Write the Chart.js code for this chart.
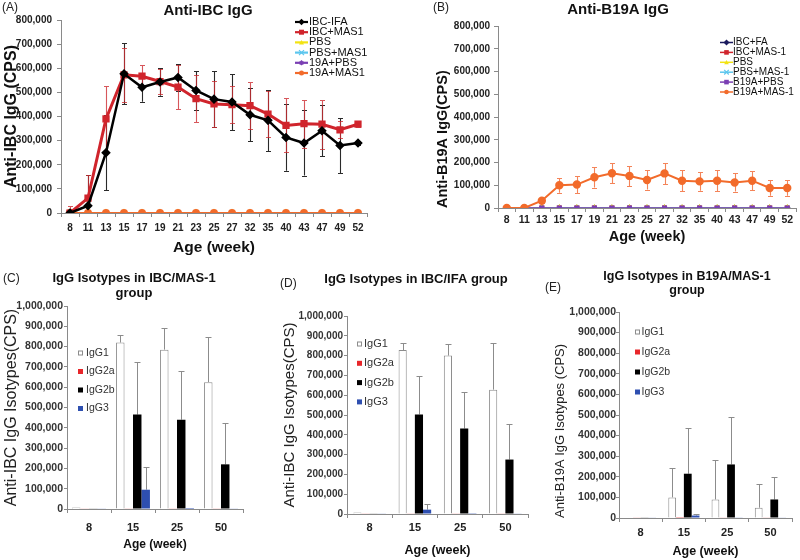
<!DOCTYPE html>
<html>
<head>
<meta charset="utf-8">
<script src="https://cdn.jsdelivr.net/npm/chart.js@4.4.1/dist/chart.umd.min.js"></script>
<style>
html,body{margin:0;padding:0;background:#fff;width:800px;height:560px;overflow:hidden;position:relative;font-family:'Liberation Sans',Arial,sans-serif;}
canvas{position:absolute;}
.lab{position:absolute;font-size:12px;color:#222;line-height:14px;}
</style>
</head>
<body>
<canvas id="cA" width="416" height="265" style="left:0;top:0"></canvas>
<canvas id="cB" width="436" height="265" style="left:400px;top:0"></canvas>
<canvas id="cC" width="268" height="290" style="left:0;top:270px"></canvas>
<canvas id="cD" width="302" height="290" style="left:265px;top:270px"></canvas>
<canvas id="cE" width="314" height="290" style="left:530px;top:270px"></canvas>
<div class="lab" style="left:2px;top:0px">(A)</div>
<div class="lab" style="left:433px;top:0px">(B)</div>
<div class="lab" style="left:3px;top:271px">(C)</div>
<div class="lab" style="left:280px;top:276px">(D)</div>
<div class="lab" style="left:545px;top:280px">(E)</div>
<script>
// ---------- data: panels A & B (line charts) ----------
const weeks = ['8','11','13','15','17','19','21','23','25','27','32','35','40','43','47','49','52'];

const ibcIfa      = [0, 30000, 250000, 577000, 521000, 543000, 562000, 508000, 472000, 460000, 407000, 384000, 313000, 290000, 341000, 280000, 290000];
const ibcIfaErr   = [0, 128000, 155000, 127000, 60000, 57000, 55000, 82000, 115000, 118000, 110000, 127000, 138000, 135000, 106000, 115000, 10000];
const ibcMas1     = [0, 62000, 390000, 573000, 567000, 545000, 522000, 474000, 452000, 449000, 445000, 410000, 363000, 370000, 368000, 345000, 368000];
const ibcMas1Err  = [30000, 95000, 136000, 111000, 48000, 52000, 92000, 97000, 97000, 78000, 97000, 97000, 112000, 100000, 101000, 35000, 10000];
const aPbs        = [0,0,0,0,0,0,0,0,0,0,0,0,0,0,0,0,0];
const aPbsMas1    = [0,0,0,0,0,0,0,0,0,0,0,0,0,0,0,0,0];
const a19aPbs     = [0,0,0,0,0,0,0,0,0,0,0,0,0,0,0,0,0];
const a19aMas1    = [0,0,0,0,0,0,0,0,0,0,0,0,0,0,0,0,0];

const bIbcFa      = [0,0,0,0,0,0,0,0,0,0,0,0,0,0,0,0,0];
const bIbcMas1    = [0,0,0,0,0,0,0,0,0,0,0,0,0,0,0,0,0];
const bPbs        = [0,0,0,0,0,0,0,0,0,0,0,0,0,0,0,0,0];
const bPbsMas1    = [0,0,0,0,0,0,0,0,0,0,0,0,0,0,0,0,0];
const bB19aPbs    = [0,0,0,0,0,0,0,0,0,0,0,0,0,0,0,0,0];
const bB19aMas1   = [0, 0, 32000, 100000, 103000, 135000, 153000, 141000, 123000, 152000, 120000, 117000, 120000, 112000, 120000, 88000, 88000];
const bB19aMas1Err= [0, 0, 8000, 33000, 37000, 45000, 45000, 45000, 42000, 48000, 46000, 41000, 45000, 40000, 42000, 34000, 34000];

const lineTicks = [0, 100000, 200000, 300000, 400000, 500000, 600000, 700000, 800000];

// ---------- data: panels C, D, E (isotype bar charts) ----------
const isoAges = ['8','15','25','50'];

const cIgG1 = [8000, 820000, 785000, 625000];   const cIgG1Err = [0, 35000, 108000, 220000];
const cIgG2a = [2000, 3000, 3000, 3000];        const cIgG2aErr = [0, 0, 0, 0];
const cIgG2b = [3000, 465000, 440000, 220000];  const cIgG2bErr = [0, 260000, 238000, 205000];
const cIgG3 = [3000, 95000, 5000, 3000];        const cIgG3Err = [0, 110000, 0, 0];

const dIgG1 = [8000, 828000, 800000, 628000];   const dIgG1Err = [0, 37000, 60000, 237000];
const dIgG2a = [2000, 2000, 2000, 2000];        const dIgG2aErr = [0, 0, 0, 0];
const dIgG2b = [2000, 503000, 432000, 275000];  const dIgG2bErr = [0, 192000, 183000, 178000];
const dIgG3 = [2000, 22000, 4000, 2000];        const dIgG3Err = [0, 26000, 0, 0];

const eIgG1 = [2000, 100000, 90000, 50000];     const eIgG1Err = [0, 145000, 190000, 115000];
const eIgG2a = [2000, 4000, 2000, 2000];        const eIgG2aErr = [0, 0, 0, 0];
const eIgG2b = [3000, 215000, 260000, 90000];   const eIgG2bErr = [0, 222000, 232000, 108000];
const eIgG3 = [2000, 12000, 3000, 2000];        const eIgG3Err = [0, 6000, 0, 0];

// ---------- setup ----------
Chart.defaults.font.family = "'Liberation Sans', Arial, Helvetica, sans-serif";
Chart.defaults.color = '#222';
const AXIS = '#8a8a8a';

function marker(ctx, style, x, y, r, color) {
  ctx.save();
  ctx.fillStyle = color; ctx.strokeStyle = color; ctx.lineWidth = 1.2;
  ctx.beginPath();
  if (style === 'circle') { ctx.arc(x, y, r, 0, 2 * Math.PI); ctx.fill(); }
  else if (style === 'rect') { ctx.rect(x - r, y - r, 2 * r, 2 * r); ctx.fill(); }
  else if (style === 'rectRot') { const q = r * 1.3; ctx.moveTo(x, y - q); ctx.lineTo(x + q, y); ctx.lineTo(x, y + q); ctx.lineTo(x - q, y); ctx.closePath(); ctx.fill(); }
  else if (style === 'triangle') { ctx.moveTo(x, y - r); ctx.lineTo(x + r, y + r * 0.8); ctx.lineTo(x - r, y + r * 0.8); ctx.closePath(); ctx.fill(); }
  else if (style === 'crossRot') { ctx.moveTo(x - r, y - r); ctx.lineTo(x + r, y + r); ctx.moveTo(x + r, y - r); ctx.lineTo(x - r, y + r); ctx.stroke(); }
  else { const d = r * 0.7; ctx.moveTo(x - r, y); ctx.lineTo(x + r, y); ctx.moveTo(x, y - r); ctx.lineTo(x, y + r);
         ctx.moveTo(x - d, y - d); ctx.lineTo(x + d, y + d); ctx.moveTo(x + d, y - d); ctx.lineTo(x - d, y + d); ctx.stroke(); }
  ctx.restore();
}

const errorBars = {
  id: 'errorBars',
  beforeDatasetsDraw(chart, args, opts) {
    const ctx = chart.ctx, a = chart.chartArea, ys = chart.scales.y;
    ctx.save();
    ctx.beginPath(); ctx.rect(a.left, a.top - 2, a.right - a.left, a.bottom - a.top + 2); ctx.clip();
    chart.data.datasets.forEach((ds, di) => {
      if (!ds.errors) return;
      const meta = chart.getDatasetMeta(di);
      ctx.strokeStyle = ds.errorColor || '#888';
      ctx.lineWidth = opts.width || 1;
      meta.data.forEach((el, i) => {
        const e = ds.errors[i];
        if (!e) return;
        const v = ds.data[i];
        const x = Math.round(el.x) + 0.5;
        const top = Math.round(ys.getPixelForValue(v + e)) + 0.5;
        const bot = ys.getPixelForValue(opts.both ? v - e : v);
        const c = opts.cap;
        ctx.beginPath();
        ctx.moveTo(x, bot); ctx.lineTo(x, top);
        ctx.moveTo(x - c, top); ctx.lineTo(x + c, top);
        if (opts.both) { const b = Math.round(bot) + 0.5; ctx.moveTo(x - c, b); ctx.lineTo(x + c, b); }
        ctx.stroke();
      });
    });
    ctx.restore();
  }
};

const keyLegend = {
  id: 'keyLegend',
  afterDatasetsDraw(chart, args, o) {
    const ctx = chart.ctx, a = chart.chartArea;
    ctx.save();
    ctx.font = o.size + "px 'Liberation Sans', Arial, sans-serif";
    ctx.textBaseline = 'middle'; ctx.textAlign = 'left';
    chart.data.datasets.forEach((ds, i) => {
      const x = a.left + o.dx, y = a.top + o.dy + i * o.gap;
      if (o.kind === 'line') {
        ctx.strokeStyle = ds.borderColor; ctx.lineWidth = o.lineWidth;
        ctx.beginPath(); ctx.moveTo(x, y); ctx.lineTo(x + o.len, y); ctx.stroke();
        marker(ctx, ds.pointStyle, x + o.len / 2, y, o.radius, ds.borderColor);
      } else {
        ctx.fillStyle = ds.backgroundColor;
        ctx.fillRect(x, y - o.box / 2, o.box, o.box);
        if (ds.borderWidth) { ctx.strokeStyle = ds.borderColor; ctx.lineWidth = 1; ctx.strokeRect(x + 0.5, y - o.box / 2 + 0.5, o.box - 1, o.box - 1); }
      }
      ctx.fillStyle = o.color;
      ctx.fillText(ds.label, x + o.textOff, y);
    });
    ctx.restore();
  }
};

function padAxis(w) {
  return { type: 'linear', axis: 'y', position: 'right', display: true,
           grid: { display: false }, border: { display: false }, ticks: { display: false },
           afterFit(s) { s.width = w; } };
}
const fmt = v => Number(v).toLocaleString('en-US');

function lineOptions(c) {
  return {
    responsive: false, animation: false, devicePixelRatio: 1,
    layout: { padding: 0 },
    plugins: {
      legend: { display: false }, tooltip: { enabled: false },
      title: { display: true, text: c.title, color: '#111', font: { size: 15, weight: 'bold', lineHeight: 1 }, padding: c.titlePad },
      errorBars: { both: true, cap: 2.5, width: 1.1 },
      keyLegend: c.key
    },
    scales: {
      x: { offset: true,
           grid: { display: true, offset: true, drawOnChartArea: false, drawTicks: true, tickLength: 4, color: AXIS },
           border: { display: true, color: AXIS },
           ticks: { autoSkip: false, maxRotation: 0, padding: c.xTickPad, color: '#222', font: { size: c.xTickSize, weight: 'bold' } },
           title: { display: true, text: 'Age (week)', color: '#111', font: { size: c.xTitleSize, weight: 'bold' }, padding: { top: 0, bottom: c.xTitlePad } },
           afterFit(s) { s.height = c.xHeight; } },
      y: { min: lineTicks[0], max: lineTicks[lineTicks.length - 1],
           grid: { display: true, drawOnChartArea: false, tickLength: 4, color: AXIS },
           border: { display: true, color: AXIS },
           ticks: { stepSize: lineTicks[1] - lineTicks[0], autoSkip: false, padding: c.yTickPad, color: '#222', font: { size: 10, weight: 'bold' }, callback: fmt },
           title: { display: true, text: c.yTitle, align: c.yAlign, color: '#111', font: { size: c.yTitleSize, weight: 'bold' }, padding: { top: c.yTitlePad, bottom: 0 } },
           afterFit(s) { s.width = c.yWidth; } },
      pad: padAxis(c.padW)
    }
  };
}

// ---------- Panel A ----------
new Chart(document.getElementById('cA'), {
  type: 'line',
  data: { labels: weeks, datasets: [
    { label: 'IBC-IFA', data: ibcIfa, errors: ibcIfaErr, errorColor: '#2a2a2a', borderColor: '#000', backgroundColor: '#000', borderWidth: 2.5, pointStyle: 'rectRot', pointRadius: 3, order: 0 },
    { label: 'IBC+MAS1', data: ibcMas1, errors: ibcMas1Err, errorColor: 'rgba(205,45,50,0.8)', borderColor: '#d0242c', backgroundColor: '#d0242c', borderWidth: 3, pointStyle: 'rect', pointRadius: 3, order: 1 },
    { label: 'PBS', data: aPbs, borderColor: '#f2e312', backgroundColor: '#f2e312', borderWidth: 1.5, pointStyle: 'triangle', pointRadius: 3, order: 5 },
    { label: 'PBS+MAS1', data: aPbsMas1, borderColor: '#5cc6ee', backgroundColor: '#5cc6ee', borderWidth: 1.5, pointStyle: 'crossRot', pointRadius: 3, order: 4 },
    { label: '19A+PBS', data: a19aPbs, borderColor: '#7a3fb3', backgroundColor: '#7a3fb3', borderWidth: 1.5, pointStyle: 'star', pointRadius: 3, order: 3 },
    { label: '19A+MAS1', data: a19aMas1, borderColor: '#f26b2b', backgroundColor: '#f26b2b', borderWidth: 2, pointStyle: 'circle', pointRadius: 3, order: 2 }
  ] },
  options: lineOptions({
    title: 'Anti-IBC IgG', titlePad: { top: 3.5, bottom: 1.5 },
    xHeight: 52, xTickPad: 5, xTickSize: 10, xTitleSize: 15.5, xTitlePad: 7.7,
    yWidth: 61, yTickPad: 5, yTitle: 'Anti-IBC IgG (CPS)', yAlign: 'center', yTitleSize: 16, yTitlePad: 1.5,
    padW: 49,
    key: { kind: 'line', dx: 234, dy: 2, gap: 10.2, size: 11, len: 13, textOff: 14, lineWidth: 2.2, radius: 2.5, color: '#111' }
  }),
  plugins: [errorBars, keyLegend]
});

// ---------- Panel B ----------
new Chart(document.getElementById('cB'), {
  type: 'line',
  data: { labels: weeks, datasets: [
    { label: 'IBC+FA', data: bIbcFa, borderColor: '#1b1b5e', backgroundColor: '#1b1b5e', borderWidth: 1.5, pointStyle: 'rectRot', pointRadius: 2.5, order: 6 },
    { label: 'IBC+MAS-1', data: bIbcMas1, borderColor: '#d0242c', backgroundColor: '#d0242c', borderWidth: 1.5, pointStyle: 'rect', pointRadius: 2.5, order: 5 },
    { label: 'PBS', data: bPbs, borderColor: '#f2e312', backgroundColor: '#f2e312', borderWidth: 1.5, pointStyle: 'triangle', pointRadius: 2.5, order: 4 },
    { label: 'PBS+MAS-1', data: bPbsMas1, borderColor: '#5cc6ee', backgroundColor: '#5cc6ee', borderWidth: 1.5, pointStyle: 'crossRot', pointRadius: 2.5, order: 3 },
    { label: 'B19A+PBS', data: bB19aPbs, borderColor: '#7a3fb3', backgroundColor: '#7a3fb3', borderWidth: 1.5, pointStyle: 'rect', pointRadius: 2.5, order: 1 },
    { label: 'B19A+MAS-1', data: bB19aMas1, errors: bB19aMas1Err, errorColor: 'rgba(242,110,60,0.85)', borderColor: '#f26b2b', backgroundColor: '#f26b2b', borderWidth: 2, pointStyle: 'circle', pointRadius: 3.2, order: 0 }
  ] },
  options: lineOptions({
    title: 'Anti-B19A IgG', titlePad: { top: 2.5, bottom: 8.5 },
    xHeight: 57, xTickPad: 2, xTickSize: 10.5, xTitleSize: 14.5, xTitlePad: 19.3,
    yWidth: 98, yTickPad: 4, yTitle: 'Anti-B19A IgG(CPS)', yAlign: 'start', yTitleSize: 14.5, yTitlePad: 34.3,
    padW: 40,
    key: { kind: 'line', dx: 222, dy: 16.5, gap: 9.9, size: 10, len: 13, textOff: 13, lineWidth: 1.5, radius: 2.3, color: '#111' }
  }),
  plugins: [errorBars, keyLegend]
});

// ---------- Panels C, D, E ----------
function barOptions(c) {
  return {
    responsive: false, animation: false, devicePixelRatio: 1,
    layout: { padding: 0 },
    datasets: { bar: { categoryPercentage: c.catPct, barPercentage: 1 } },
    plugins: {
      legend: { display: false }, tooltip: { enabled: false },
      title: { display: true, text: c.title, color: '#111', font: { size: c.titleSize, weight: 'bold', lineHeight: c.titleLH }, padding: c.titlePad },
      errorBars: { both: false, cap: 3, width: 1 },
      keyLegend: c.key
    },
    scales: {
      x: { grid: { display: true, offset: true, drawOnChartArea: false, drawTicks: true, tickLength: 4, color: AXIS },
           border: { display: true, color: AXIS },
           ticks: { autoSkip: false, maxRotation: 0, padding: c.xTickPad, color: '#222', font: { size: 11, weight: 'bold' } },
           title: { display: true, text: 'Age (week)', color: '#111', font: { size: c.xTitleSize, weight: 'bold' }, padding: { top: 0, bottom: c.xTitlePad } },
           afterFit(s) { s.height = c.xHeight; } },
      y: { min: 0, max: 1000000,
           grid: { display: true, drawOnChartArea: false, tickLength: 3, color: AXIS },
           border: { display: true, color: AXIS },
           ticks: { stepSize: 100000, autoSkip: false, padding: c.yTickPad, color: '#333', font: { size: c.yTickSize, weight: 'bold' }, callback: fmt },
           title: { display: true, text: c.yTitle, align: c.yAlign, color: '#222', font: { size: c.yTitleSize, weight: 'normal' }, padding: { top: c.yTitlePad, bottom: 0 } },
           afterFit(s) { s.width = c.yWidth; } },
      pad: padAxis(c.padW)
    }
  };
}
function isoSets(g1, g1e, g2a, g2ae, g2b, g2be, g3, g3e) {
  return [
    { label: 'IgG1', data: g1, errors: g1e, errorColor: '#8c8c8c', backgroundColor: '#ffffff', borderColor: '#8c8c8c', borderWidth: 1 },
    { label: 'IgG2a', data: g2a, errors: g2ae, errorColor: '#8c8c8c', backgroundColor: '#e8262a', borderWidth: 0 },
    { label: 'IgG2b', data: g2b, errors: g2be, errorColor: '#8c8c8c', backgroundColor: '#000000', borderWidth: 0 },
    { label: 'IgG3', data: g3, errors: g3e, errorColor: '#8c8c8c', backgroundColor: '#2e4fb0', borderWidth: 0 }
  ];
}

new Chart(document.getElementById('cC'), {
  type: 'bar',
  data: { labels: isoAges, datasets: isoSets(cIgG1, cIgG1Err, cIgG2a, cIgG2aErr, cIgG2b, cIgG2bErr, cIgG3, cIgG3Err) },
  options: barOptions({
    title: ['IgG Isotypes in IBC/MAS-1', 'group'], titleSize: 13, titleLH: 15 / 13, titlePad: { top: 0.5, bottom: 5.5 },
    catPct: 0.77,
    xHeight: 51, xTickPad: 8, xTitleSize: 12, xTitlePad: 7.8,
    yWidth: 67, yTickPad: 1, yTickSize: 10.5, yTitle: 'Anti-IBC IgG Isotypes(CPS)', yAlign: 'center', yTitleSize: 16, yTitlePad: 2.4,
    padW: 25,
    key: { kind: 'box', dx: 11, dy: 47, gap: 18.5, size: 10.5, box: 5, textOff: 8, color: '#333' }
  }),
  plugins: [errorBars, keyLegend]
});

new Chart(document.getElementById('cD'), {
  type: 'bar',
  data: { labels: isoAges, datasets: isoSets(dIgG1, dIgG1Err, dIgG2a, dIgG2aErr, dIgG2b, dIgG2bErr, dIgG3, dIgG3Err) },
  options: barOptions({
    title: 'IgG Isotypes in IBC/IFA group', titleSize: 13, titleLH: 15 / 13, titlePad: { top: 1.5, bottom: 29.5 },
    catPct: 0.72,
    xHeight: 46, xTickPad: 3.4, xTitleSize: 12.5, xTitlePad: 1.5,
    yWidth: 82, yTickPad: 1, yTickSize: 10, yTitle: 'Anti-IBC IgG Isotypes(CPS)', yAlign: 'center', yTitleSize: 15, yTitlePad: 16,
    padW: 39,
    key: { kind: 'box', dx: 10, dy: 28, gap: 19.3, size: 11, box: 5, textOff: 7, color: '#333' }
  }),
  plugins: [errorBars, keyLegend]
});

new Chart(document.getElementById('cE'), {
  type: 'bar',
  data: { labels: isoAges, datasets: isoSets(eIgG1, eIgG1Err, eIgG2a, eIgG2aErr, eIgG2b, eIgG2bErr, eIgG3, eIgG3Err) },
  options: barOptions({
    title: ['IgG Isotypes in B19A/MAS-1', 'group'], titleSize: 12.5, titleLH: 14 / 12.5, titlePad: { top: 0, bottom: 14 },
    catPct: 0.72,
    xHeight: 42, xTickPad: 4.4, xTitleSize: 12.5, xTitlePad: 0.5,
    yWidth: 89, yTickPad: 0, yTickSize: 10.5, yTitle: 'Anti-B19A IgG Isotypes (CPS)', yAlign: 'start', yTitleSize: 13, yTitlePad: 22.2,
    padW: 52,
    key: { kind: 'box', dx: 16, dy: 20, gap: 20, size: 10.5, box: 5, textOff: 6.5, color: '#333' }
  }),
  plugins: [errorBars, keyLegend]
});
</script>
</body>
</html>
